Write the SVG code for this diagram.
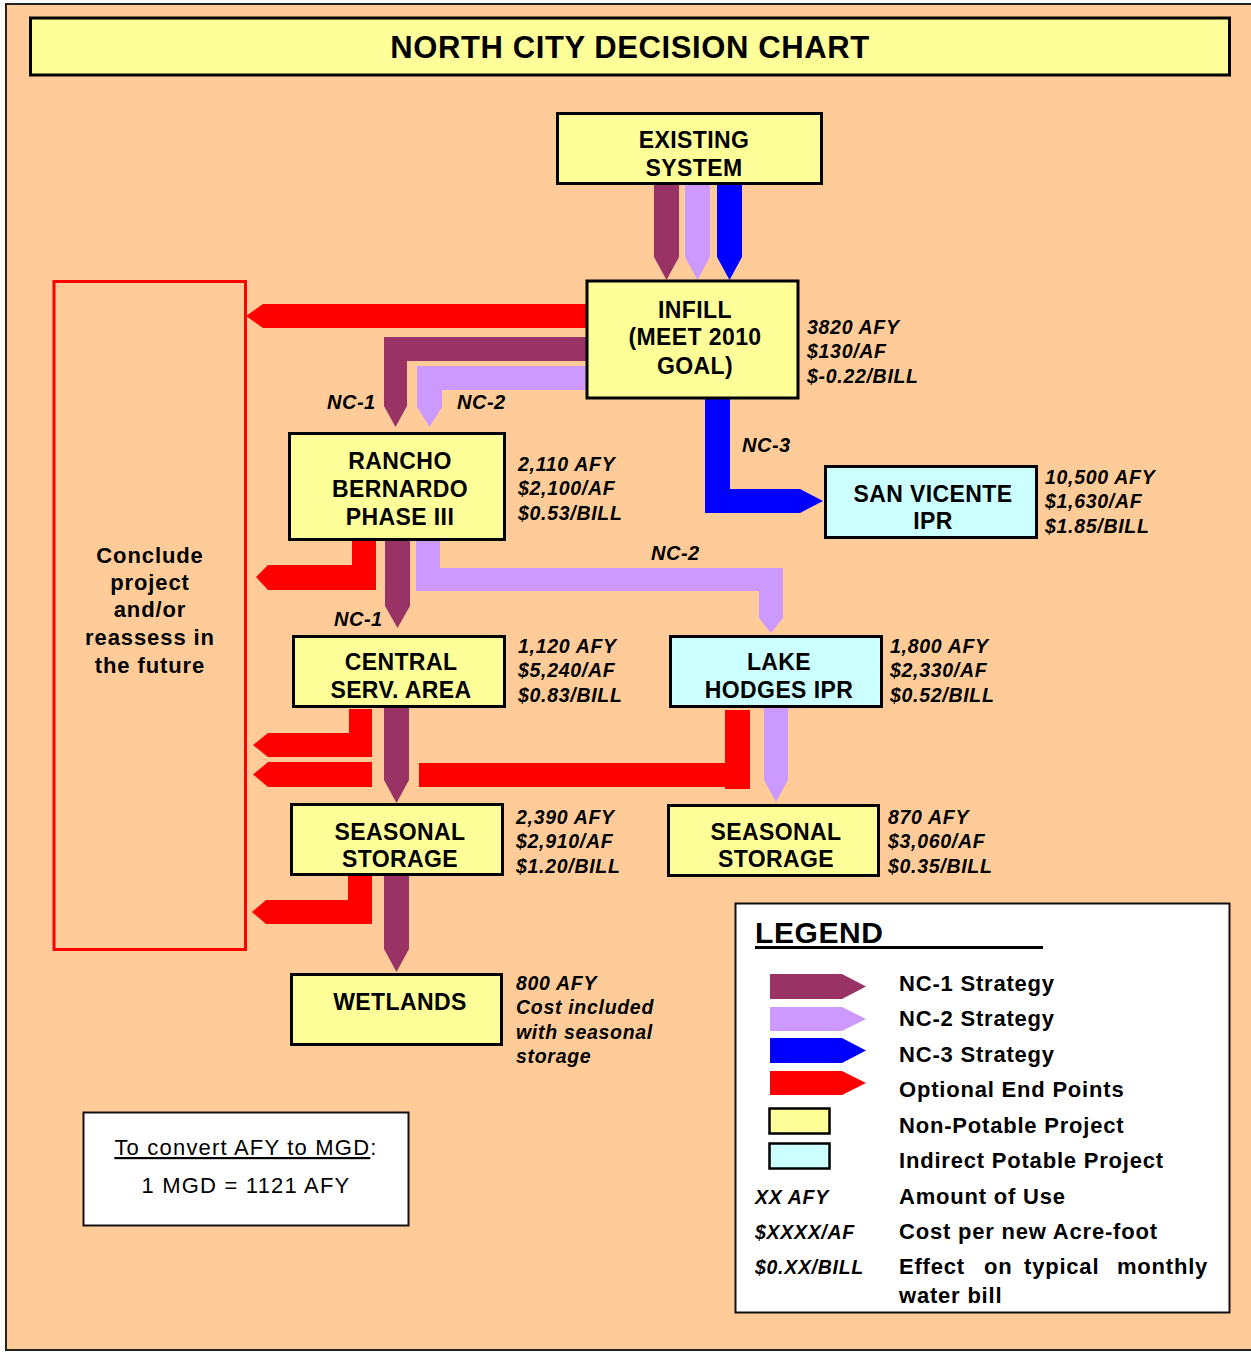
<svg xmlns="http://www.w3.org/2000/svg" width="1251" height="1352" viewBox="0 0 1251 1352">
<style>
.bg{fill:#FFCC99;stroke:#222;stroke-width:2}
.y{fill:#FFFF99;stroke:#000;stroke-width:3}
.c{fill:#CCFFFF;stroke:#000;stroke-width:3}
.w{fill:#FFFFFF;stroke:#111;stroke-width:2}
.p1{fill:#993366}
.p2{fill:#CC99FF}
.p3{fill:#0000FF}
.pr{fill:#FF0000}
text{font-family:"Liberation Sans",Arial,sans-serif;fill:#000}
.bx{font-weight:bold;font-size:23px;letter-spacing:0.4px;text-anchor:middle}
.st{font-weight:bold;font-style:italic;font-size:19.5px;letter-spacing:0.7px}
.nc{font-weight:bold;font-style:italic;font-size:20px;letter-spacing:0.5px}
.lg{font-weight:bold;font-size:22px;letter-spacing:0.8px}
.cc{font-weight:bold;font-size:22px;letter-spacing:0.9px;text-anchor:middle}
.cv{font-size:22px;letter-spacing:1.2px;text-anchor:middle}
</style>
<rect class="bg" x="6" y="4" width="1252" height="1346"/>
<g id="title">
<rect class="y" x="30.5" y="18" width="1199" height="57"/>
<text x="630" y="58" style="font-weight:bold;font-size:31px;letter-spacing:0.6px;text-anchor:middle">NORTH CITY DECISION CHART</text>
</g>
<g id="connectors">
<polygon class="p1" points="654,184 679,184 679,257 666.5,280 654,257"/>
<polygon class="p2" points="685,184 710,184 710,257 697.5,280 685,257"/>
<polygon class="p3" points="717,184 742,184 742,257 729.5,280 717,257"/>
<polygon class="pr" points="587,304 263,304 246,316 263,328 587,328"/>
<polygon class="p1" points="587,337 384,337 384,406 395.5,427 407,406 407,361 587,361"/>
<polygon class="p2" points="587,366 417,366 417,407 429.5,427 442,407 442,390 587,390"/>
<polygon class="p3" points="705,399 730,399 730,489 800,489 823,501 800,513 705,513"/>
<polygon class="pr" points="352,541 376,541 376,590 268,590 256,577 268,565 352,565"/>
<polygon class="p1" points="385,541 410,541 410,606 397.5,628 385,606"/>
<polygon class="p2" points="416,541 440,541 440,568 783,568 783,618 771,633 759,618 759,591 416,591"/>
<polygon class="pr" points="349,709 372,709 372,757 268,757 253,745 268,733 349,733"/>
<polygon class="pr" points="372,762 372,787 268,787 253,774.5 268,762"/>
<polygon class="p1" points="384,708 409,708 409,780 396.5,803 384,780"/>
<polygon class="pr" points="725,710 750,710 750,789 725,789 725,787 419,787 419,763 725,763"/>
<polygon class="p2" points="764,708 788,708 788,780 776,802 764,780"/>
<polygon class="pr" points="348,876 372,876 372,924 266,924 252,912 266,900 348,900"/>
<polygon class="p1" points="384,876 409,876 409,949 396.5,972 384,949"/>
<text class="nc" x="327" y="409">NC-1</text>
<text class="nc" x="457" y="409">NC-2</text>
<text class="nc" x="742" y="452">NC-3</text>
<text class="nc" x="651" y="560">NC-2</text>
<text class="nc" x="334" y="626">NC-1</text>
</g>
<g id="conclude">
<rect x="54" y="281.5" width="191.5" height="668" fill="none" stroke="#FF0000" stroke-width="3"/>
<text class="cc" x="150" y="563">Conclude</text>
<text class="cc" x="150" y="590">project</text>
<text class="cc" x="150" y="617">and/or</text>
<text class="cc" x="150" y="645">reassess in</text>
<text class="cc" x="150" y="673">the future</text>
</g>
<g id="existing">
<rect class="y" x="557.5" y="113.5" width="264" height="70"/>
<text class="bx" x="694" y="148">EXISTING</text>
<text class="bx" x="694" y="176">SYSTEM</text>
</g>
<g id="infill">
<rect class="y" x="587" y="281" width="211" height="117"/>
<text class="bx" x="695" y="318">INFILL</text>
<text class="bx" x="695" y="345">(MEET 2010</text>
<text class="bx" x="695" y="374">GOAL)</text>
<text class="st" x="807" y="334">3820 AFY</text>
<text class="st" x="807" y="358">$130/AF</text>
<text class="st" x="807" y="383">$-0.22/BILL</text>
</g>
<g id="rancho">
<rect class="y" x="289.5" y="433.5" width="215" height="106"/>
<text class="bx" x="400" y="469">RANCHO</text>
<text class="bx" x="400" y="497">BERNARDO</text>
<text class="bx" x="400" y="525">PHASE III</text>
<text class="st" x="518" y="471">2,110 AFY</text>
<text class="st" x="518" y="495">$2,100/AF</text>
<text class="st" x="518" y="520">$0.53/BILL</text>
</g>
<g id="sanvicente">
<rect class="c" x="825.5" y="466.5" width="211" height="71"/>
<text class="bx" x="933" y="502">SAN VICENTE</text>
<text class="bx" x="933" y="529">IPR</text>
<text class="st" x="1045" y="484">10,500 AFY</text>
<text class="st" x="1045" y="508">$1,630/AF</text>
<text class="st" x="1045" y="533">$1.85/BILL</text>
</g>
<g id="central">
<rect class="y" x="293.5" y="636.5" width="211" height="70"/>
<text class="bx" x="401" y="670">CENTRAL</text>
<text class="bx" x="401" y="698">SERV. AREA</text>
<text class="st" x="518" y="653">1,120 AFY</text>
<text class="st" x="518" y="677">$5,240/AF</text>
<text class="st" x="518" y="702">$0.83/BILL</text>
</g>
<g id="lakehodges">
<rect class="c" x="670.5" y="636.5" width="211" height="70"/>
<text class="bx" x="779" y="670">LAKE</text>
<text class="bx" x="779" y="698">HODGES IPR</text>
<text class="st" x="890" y="653">1,800 AFY</text>
<text class="st" x="890" y="677">$2,330/AF</text>
<text class="st" x="890" y="702">$0.52/BILL</text>
</g>
<g id="seasonal1">
<rect class="y" x="291.5" y="804.5" width="211" height="70"/>
<text class="bx" x="400" y="840">SEASONAL</text>
<text class="bx" x="400" y="867">STORAGE</text>
<text class="st" x="516" y="824">2,390 AFY</text>
<text class="st" x="516" y="848">$2,910/AF</text>
<text class="st" x="516" y="873">$1.20/BILL</text>
</g>
<g id="seasonal2">
<rect class="y" x="668.5" y="805.5" width="210" height="70"/>
<text class="bx" x="776" y="840">SEASONAL</text>
<text class="bx" x="776" y="867">STORAGE</text>
<text class="st" x="888" y="824">870 AFY</text>
<text class="st" x="888" y="848">$3,060/AF</text>
<text class="st" x="888" y="873">$0.35/BILL</text>
</g>
<g id="wetlands">
<rect class="y" x="291.5" y="974.5" width="210" height="70"/>
<text class="bx" x="400" y="1010">WETLANDS</text>
<text class="st" x="516" y="990">800 AFY</text>
<text class="st" x="516" y="1014">Cost included</text>
<text class="st" x="516" y="1039">with seasonal</text>
<text class="st" x="516" y="1063">storage</text>
</g>
<g id="convert">
<rect class="w" x="83.5" y="1112.5" width="325" height="113"/>
<text class="cv" x="246" y="1155"><tspan text-decoration="underline">To convert AFY to MGD</tspan>:</text>
<text class="cv" x="246" y="1193">1 MGD = 1121 AFY</text>
</g>
<g id="legend">
<rect class="w" x="735.5" y="903.5" width="494" height="409"/>
<text x="755" y="943" style="font-weight:bold;font-size:30px;letter-spacing:0.6px">LEGEND</text>
<rect x="755" y="946" width="288" height="3" fill="#000"/>
<polygon class="p1" points="770,974 842,974 866,986.5 842,999 770,999"/>
<polygon class="p2" points="770,1007 842,1007 866,1019 842,1031 770,1031"/>
<polygon class="p3" points="770,1038 842,1038 866,1050.5 842,1063 770,1063"/>
<polygon class="pr" points="770,1071 842,1071 866,1083 842,1095 770,1095"/>
<rect class="y" x="769.5" y="1108.5" width="60" height="25" style="stroke-width:2.5"/>
<rect class="c" x="769.5" y="1143.5" width="60" height="25" style="stroke-width:2.5"/>
<text class="lg" x="899" y="991">NC-1 Strategy</text>
<text class="lg" x="899" y="1026">NC-2 Strategy</text>
<text class="lg" x="899" y="1062">NC-3 Strategy</text>
<text class="lg" x="899" y="1097">Optional End Points</text>
<text class="lg" x="899" y="1133">Non-Potable Project</text>
<text class="lg" x="899" y="1168">Indirect Potable Project</text>
<text class="lg" x="899" y="1204">Amount of Use</text>
<text class="lg" x="899" y="1239">Cost per new Acre-foot</text>
<text class="lg" y="1274"><tspan x="899">Effect</tspan><tspan x="984">on</tspan><tspan x="1024">typical</tspan><tspan x="1117">monthly</tspan></text>
<text class="lg" x="899" y="1303">water bill</text>
<text class="st" x="755" y="1204">XX AFY</text>
<text class="st" x="755" y="1239">$XXXX/AF</text>
<text class="st" x="755" y="1274">$0.XX/BILL</text>
</g>
</svg>
